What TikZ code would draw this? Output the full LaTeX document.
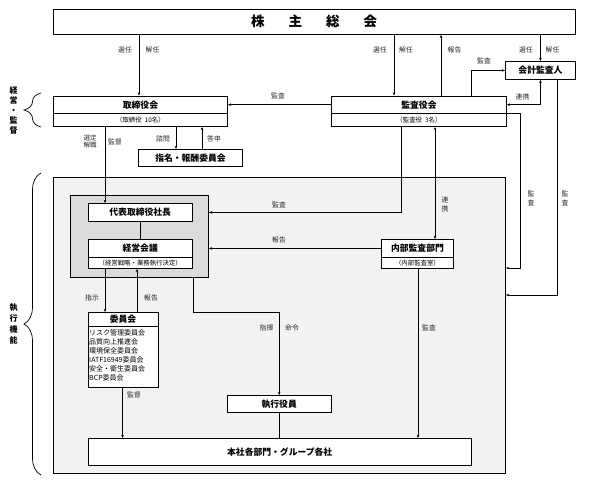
\documentclass[tikz,border=0pt]{standalone}
\usepackage{fontspec}
\setmainfont{Noto Sans CJK JP}
\usetikzlibrary{arrows.meta,decorations.pathreplacing,calc}
\definecolor{bigbg}{HTML}{F2F2F2}
\definecolor{innerbg}{HTML}{DBDBDB}
\tikzset{
  box/.style={draw, fill=white, line width=0.9pt, inner sep=0pt, anchor=north west, font=\fontsize{8.8}{10}\selectfont\bfseries},
  subbox/.style={draw, fill=white, line width=0.9pt, inner sep=0pt, anchor=north west, font=\fontsize{6.4}{8}\selectfont},
  conn/.style={line width=0.7pt},
  arr/.style={conn, -{Stealth[length=3.2pt,width=2.6pt]}},
  arrb/.style={conn, {Stealth[length=3.2pt,width=2.6pt]}-{Stealth[length=3.2pt,width=2.6pt]}},
  lbl/.style={inner sep=0pt, font=\fontsize{6.8}{7.5}\selectfont, text=black!85},
  vlbl/.style={inner sep=0pt, align=center, font=\fontsize{6.8}{9}\selectfont, text=black!85},
  side/.style={inner sep=0pt, align=center, font=\fontsize{8}{10.2}\selectfont\bfseries},
  brc/.style={draw, line width=0.7pt, decorate}
}
\begin{document}
\begin{tikzpicture}[x=1pt,y=-1pt]
\useasboundingbox (0,0) rectangle (610,483);
% background regions
\node[draw, fill=bigbg, line width=0.9pt, inner sep=0pt, anchor=north west, minimum width=452.5pt, minimum height=296pt] (big) at (52.5,177) {};
\node[draw, fill=innerbg, line width=0.9pt, inner sep=0pt, anchor=north west, minimum width=138pt, minimum height=82pt] (inner) at (70,195) {};
% boxes
\node[box, minimum width=522.5pt, minimum height=25.5pt, font=\fontsize{13.5}{15}\selectfont\bfseries] (kabu) at (52.5,8.5) {株\hspace{24pt}主\hspace{24pt}総\hspace{24pt}会};
\node[box, minimum width=174pt, minimum height=17.5pt] (tori) at (53,95.5) {取締役会};
\node[subbox, minimum width=174pt, minimum height=13pt] (torisub) at (53,113) {（取締役\hspace{3pt}10名）};
\node[box, minimum width=175pt, minimum height=17.5pt] (kansa) at (331,95.5) {監査役会};
\node[subbox, minimum width=175pt, minimum height=13pt] (kansasub) at (331,113) {（監査役\hspace{3pt}3名）};
\node[box, minimum width=70pt, minimum height=18pt] (kaikei) at (505,61) {会計監査人};
\node[box, minimum width=104pt, minimum height=17pt] (shimei) at (138,149) {指名・報酬委員会};
\node[box, minimum width=104.5pt, minimum height=18pt] (daihyo) at (87.5,203) {代表取締役社長};
\node[box, minimum width=104.5pt, minimum height=18pt] (keiei) at (87.5,239) {経営会議};
\node[subbox, minimum width=104.5pt, minimum height=11pt] (keieisub) at (87.5,257) {（経営戦略・業務執行決定）};
\node[box, minimum width=72pt, minimum height=18pt] (naibu) at (381,239) {内部監査部門};
\node[subbox, minimum width=72pt, minimum height=11pt] (naibusub) at (381,257) {（内部監査室）};
\node[box, minimum width=70pt, minimum height=14pt] (iin) at (87.5,312) {委員会};
\node[subbox, minimum width=70pt, minimum height=61pt] (iinsub) at (87.5,326) {};
\node[inner sep=0pt, anchor=north west, align=left, font=\fontsize{7}{9}\selectfont] (iinlist) at (89,329.5) {リスク管理委員会\\品質向上推進会\\環境保全委員会\\IATF16949委員会\\安全・衛生委員会\\BCP委員会};
\node[box, minimum width=104.5pt, minimum height=17pt] (shikkou) at (226.5,395) {執行役員};
\node[box, minimum width=383.5pt, minimum height=27pt] (honsha) at (87.5,438) {本社各部門・グループ各社};
% helper coordinates
\coordinate (x105) at (105,0);
\coordinate (x137) at (137,0);
\coordinate (x176) at (176,0);
\coordinate (x202) at (202,0);
\coordinate (x123) at (122.6,0);
\coordinate (x394) at (394,0);
\coordinate (x401) at (401,0);
\coordinate (x418) at (418,0);
\coordinate (x435) at (435,0);
\coordinate (x441) at (441,0);
\coordinate (x471) at (471,0);
\coordinate (x139) at (139,0);
\coordinate (r1) at (520.5,268);
\coordinate (r2) at (557.5,295);
% connectors
\draw[arr] (kabu.south -| x139) -- (tori.north -| x139);
\draw[arr] (kabu.south -| x394) -- (kansa.north -| x394);
\draw[arr] (kansa.north -| x441) -- (kabu.south -| x441);
\draw[arr] (kabu.south -| kaikei.north) -- (kaikei.north);
\draw[arr] (kansa.north -| x471) |- (kaikei.west);
\draw[arrb] (kaikei.south) |- (kansa.east);
\draw[arr] (kansa.west) -- (tori.east);
\draw[arr] (torisub.south -| x176) -- (shimei.north -| x176);
\draw[arr] (shimei.north -| x202) -- (torisub.south -| x202);
\draw[arr] (torisub.south -| x105) -- (daihyo.north -| x105);
\draw[arr] (kansasub.south -| x401) |- (daihyo.east -| inner.east);
\draw[arrb] (kansasub.south -| x435) -- (naibu.north -| x435);
\draw[arr] (naibu.west) -- (naibu.west -| inner.east);
\draw[arr] (kansasub.north east) -| (r1) -- (r1 -| big.east);
\draw[arr] (kaikei.south -| r2) -- (r2) -- (r2 -| big.east);
\draw[arr] (naibusub.south -| x418) -- (honsha.north -| x418);
\draw[arr] (keieisub.south -| x105) -- (iin.north -| x105);
\draw[arr] (iin.north -| x137) -- (keieisub.south -| x137);
\draw[arr] (inner.south -| daihyo.east) |- (shikkou.north |- iin.north) -- (shikkou.north);
\draw[arr] (iinsub.south -| x123) -- (honsha.north -| x123);
\draw[conn] (shikkou.south) -- (shikkou.south |- honsha.north);
\draw[conn] (daihyo.south) -- (keiei.north);
% labels
\node[lbl] (l1) at (125,50) {選任};
\node[lbl] (l2) at (152.5,50) {解任};
\node[lbl] (l3) at (380,50) {選任};
\node[lbl] (l4) at (406,50) {解任};
\node[lbl] (l5) at (454.5,50) {報告};
\node[lbl] (l6) at (526,50) {選任};
\node[lbl] (l7) at (552.5,50) {解任};
\node[lbl] (l8) at (484,61) {監査};
\node[lbl] (l9) at (522.5,97) {連携};
\node[lbl] (l10) at (278,96) {監査};
\node[vlbl, font=\fontsize{6.5}{7}\selectfont] (l11) at (90,141.5) {選定\\解職};
\node[lbl] (l12) at (115,142) {監督};
\node[lbl] (l13) at (163,139) {諮問};
\node[lbl] (l14) at (214,139) {答申};
\node[lbl] (l15) at (279,205) {監査};
\node[vlbl] (l16) at (445,204) {連\\携};
\node[lbl] (l17) at (279,240) {報告};
\node[vlbl] (l18) at (531,198) {監\\査};
\node[vlbl] (l19) at (565,198) {監\\査};
\node[lbl] (l20) at (92,298) {指示};
\node[lbl] (l21) at (151,298) {報告};
\node[lbl] (l22) at (266.5,328) {指揮};
\node[lbl] (l23) at (292,328) {命令};
\node[lbl] (l24) at (429,328) {監査};
\node[lbl] (l25) at (134,395) {監督};
% side braces and labels
\draw[brc, decoration={brace, amplitude=17pt}] (41,127) -- (41,93);
\draw[brc, decoration={brace, amplitude=17pt}] (41,475) -- (41,173);
\node[side] (s1) at (13.6,110.5) {経\\営\\・\\監\\督};
\node[side, font=\fontsize{8}{11}\selectfont\bfseries] (s2) at (13.6,323.5) {執\\行\\機\\能};
\end{tikzpicture}
\end{document}
